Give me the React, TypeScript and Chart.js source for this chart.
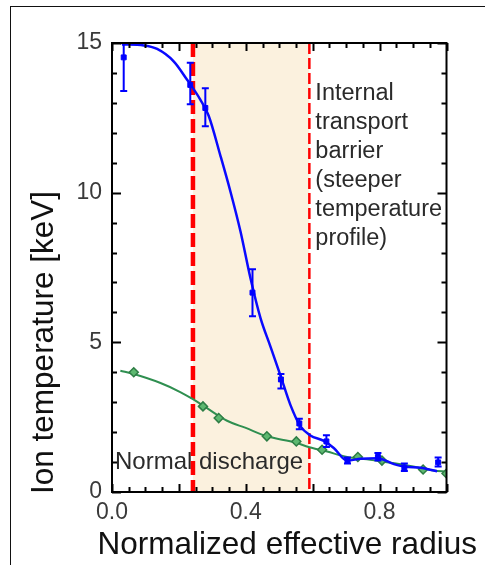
import React, { useEffect, useRef } from 'react';
import { Chart, registerables } from 'chart.js';

Chart.register(...registerables);

// ---- data ----
const blueFitX = [0.03, 0.095, 0.135, 0.185, 0.224, 0.264, 0.289, 0.324, 0.354, 0.384, 0.414, 0.444, 0.474, 0.504, 0.533, 0.563, 0.593, 0.633, 0.663, 0.703, 0.743, 0.793, 0.843, 0.877, 0.922, 0.972];
const blueFitY = [14.95, 14.92, 14.8, 14.38, 13.78, 13.11, 12.57, 11.24, 10.04, 8.71, 7.14, 5.81, 4.85, 3.88, 2.92, 2.2, 1.89, 1.71, 1.47, 1.05, 1.11, 1.13, 0.93, 0.84, 0.81, 0.69];

const bluePtsX = [0.035, 0.234, 0.279, 0.42, 0.505, 0.56, 0.641, 0.704, 0.795, 0.874, 0.975];
const bluePtsY = [14.52, 13.6, 12.83, 6.66, 3.76, 2.29, 1.69, 1.05, 1.17, 0.81, 0.99];
const blueErrLo = [13.4, 12.95, 12.22, 5.87, 3.46, 2.1, 1.5, 0.95, 1.05, 0.7, 0.85];
const blueErrHi = [14.99, 14.34, 13.49, 7.44, 3.94, 2.45, 1.9, 1.15, 1.3, 0.95, 1.15];

const greenFitX = [0.025, 0.065, 0.145, 0.204, 0.242, 0.284, 0.344, 0.4, 0.463, 0.55, 0.58, 0.643, 0.703, 0.762, 0.812, 0.892, 0.962, 1.0];
const greenFitY = [4.05, 3.94, 3.64, 3.34, 3.1, 2.8, 2.38, 2.14, 1.86, 1.65, 1.53, 1.35, 1.17, 1.09, 1.01, 0.87, 0.72, 0.68];

const greenPtsX = [0.065, 0.272, 0.319, 0.463, 0.551, 0.628, 0.735, 0.807, 0.93, 1.0];
const greenPtsY = [4.0, 2.86, 2.47, 1.86, 1.69, 1.41, 1.17, 1.05, 0.75, 0.62];

const bandStart = 0.242;
const bandEnd = 0.59;

const xTickValues = [0, 0.4, 0.8];
const yTickValues = [0, 5, 10, 15];
const xMinorStep = 0.05;
const xMajorStep = 0.2;
const yMinorStep = 1;
const yMajorStep = 5;

const xTitle = 'Normalized effective radius';
const yTitle = 'Ion temperature [keV]';
const itbLines = ['Internal', 'transport', 'barrier', '(steeper', 'temperature', 'profile)'];
const normalLabel = 'Normal discharge';

const FONT = '"Liberation Sans", Arial, Helvetica, sans-serif';

const zip = (xs: number[], ys: number[]) => xs.map((x, i) => ({ x, y: ys[i] }));

export default function App() {
  const ref = useRef<HTMLCanvasElement>(null);

  useEffect(() => {
    if (!ref.current) return;

    const decor = {
      id: 'decor',
      beforeDatasetsDraw(chart: any) {
        const { ctx, chartArea: a, scales } = chart;
        const x = scales.x;
        const x0 = x.getPixelForValue(bandStart);
        const x1 = x.getPixelForValue(bandEnd);
        ctx.save();
        ctx.fillStyle = '#FBF1DE';
        ctx.fillRect(x0, a.top, x1 - x0, a.bottom - a.top);

        ctx.font = `24px ${FONT}`;
        ctx.fillStyle = '#2a2a2a';
        ctx.textAlign = 'left';
        ctx.textBaseline = 'alphabetic';
        ctx.fillText(normalLabel, a.left + 3, a.bottom - 23);

        ctx.strokeStyle = '#FF0000';
        ctx.lineWidth = 4.5;
        ctx.setLineDash([14, 5]);
        ctx.beginPath();
        ctx.moveTo(x0, a.top);
        ctx.lineTo(x0, a.bottom);
        ctx.stroke();
        ctx.lineWidth = 2.5;
        ctx.setLineDash([11, 4]);
        ctx.beginPath();
        ctx.moveTo(x1, a.top);
        ctx.lineTo(x1, a.bottom);
        ctx.stroke();
        ctx.restore();
      },
      afterDatasetsDraw(chart: any) {
        const { ctx, chartArea: a, scales } = chart;
        const x = scales.x;
        const y = scales.y;
        ctx.save();
        // error bars
        ctx.strokeStyle = '#0000FF';
        ctx.lineWidth = 2;
        bluePtsX.forEach((v, i) => {
          const px = x.getPixelForValue(v);
          const t = y.getPixelForValue(blueErrHi[i]);
          const b = y.getPixelForValue(blueErrLo[i]);
          ctx.beginPath();
          ctx.moveTo(px, t);
          ctx.lineTo(px, b);
          ctx.moveTo(px - 3.5, t);
          ctx.lineTo(px + 3.5, t);
          ctx.moveTo(px - 3.5, b);
          ctx.lineTo(px + 3.5, b);
          ctx.stroke();
        });

        // axes box
        ctx.strokeStyle = '#000';
        ctx.lineWidth = 2;
        ctx.strokeRect(a.left, a.top, a.right - a.left, a.bottom - a.top);

        // ticks
        ctx.lineWidth = 2;
        ctx.beginPath();
        const nx = Math.round((x.max - x.min) / xMinorStep);
        for (let k = 0; k <= nx; k++) {
          const v = x.min + k * xMinorStep;
          const r = v / xMajorStep;
          const major = Math.abs(r - Math.round(r)) < 1e-6;
          const len = major ? 8 : 5;
          const px = Math.round(x.getPixelForValue(v)) + 0.5;
          ctx.moveTo(px, a.bottom);
          ctx.lineTo(px, a.bottom - len);
          ctx.moveTo(px, a.top);
          ctx.lineTo(px, a.top + len);
        }
        const ny = Math.round((y.max - y.min) / yMinorStep);
        for (let k = 0; k <= ny; k++) {
          const v = y.min + k * yMinorStep;
          const major = v % yMajorStep === 0;
          const len = major ? 9 : 5;
          const py = Math.round(y.getPixelForValue(v)) + 0.5;
          ctx.moveTo(a.left, py);
          ctx.lineTo(a.left + len, py);
          ctx.moveTo(a.right, py);
          ctx.lineTo(a.right - len, py);
        }
        ctx.stroke();

        // ITB annotation
        ctx.font = `23.5px ${FONT}`;
        ctx.fillStyle = '#2a2a2a';
        ctx.textAlign = 'left';
        ctx.textBaseline = 'alphabetic';
        const tx = x.getPixelForValue(bandEnd) + 6;
        itbLines.forEach((s, i) => {
          ctx.fillText(s, tx, a.top + 57 + i * 29);
        });
        ctx.restore();
      },
      afterDraw(chart: any) {
        const { ctx, chartArea: a } = chart;
        ctx.save();
        ctx.fillStyle = '#111';
        ctx.font = `31.5px ${FONT}`;
        ctx.textAlign = 'center';
        ctx.textBaseline = 'alphabetic';
        ctx.fillText(xTitle, (a.left + a.right) / 2 + 8, a.bottom + 62);
        ctx.translate(53, (a.top + a.bottom) / 2 + 75);
        ctx.rotate(-Math.PI / 2);
        ctx.fillText(yTitle, 0, 0);
        ctx.restore();
      },
    };

    const chart = new Chart(ref.current, {
      type: 'scatter',
      data: {
        datasets: [
          {
            data: zip(bluePtsX, bluePtsY),
            showLine: false,
            pointStyle: 'rect',
            pointRadius: 3.5,
            pointBackgroundColor: '#0000FF',
            pointBorderColor: '#0000FF',
            pointBorderWidth: 1,
          },
          {
            data: zip(blueFitX, blueFitY),
            showLine: true,
            borderColor: '#0A0AFF',
            borderWidth: 2.5,
            pointRadius: 0,
            cubicInterpolationMode: 'monotone',
          },
          {
            data: zip(greenPtsX, greenPtsY),
            showLine: false,
            pointStyle: 'rectRot',
            pointRadius: 4.5,
            pointBackgroundColor: '#5DB870',
            pointBorderColor: '#2E7D45',
            pointBorderWidth: 1.5,
          },
          {
            data: zip(greenFitX, greenFitY),
            showLine: true,
            borderColor: '#2F8F50',
            borderWidth: 2,
            pointRadius: 0,
            cubicInterpolationMode: 'monotone',
          },
        ],
      },
      options: {
        responsive: false,
        animation: false,
        devicePixelRatio: 1,
        layout: { padding: { left: 0, top: 43, right: 38.5, bottom: 0 } },
        plugins: { legend: { display: false }, tooltip: { enabled: false } },
        scales: {
          x: {
            type: 'linear',
            min: 0,
            max: 1,
            grid: { display: false, drawTicks: false },
            border: { display: false },
            ticks: {
              font: { family: FONT, size: 23 },
              color: '#3a3a3a',
              padding: 7,
              autoSkip: false,
              maxRotation: 0,
              callback: (v: any) => Number(v).toFixed(1),
            },
            afterBuildTicks: (s: any) => {
              s.ticks = xTickValues.map((value) => ({ value }));
            },
            afterFit: (s: any) => {
              s.height = 73;
            },
          },
          y: {
            type: 'linear',
            min: 0,
            max: 15,
            grid: { display: false, drawTicks: false },
            border: { display: false },
            ticks: {
              font: { family: FONT, size: 23 },
              color: '#3a3a3a',
              padding: 10,
              autoSkip: false,
              callback: (v: any) => String(v),
            },
            afterBuildTicks: (s: any) => {
              s.ticks = yTickValues.map((value) => ({ value }));
            },
            afterFit: (s: any) => {
              s.width = 112;
            },
          },
        },
      },
      plugins: [decor],
    } as any);

    return () => chart.destroy();
  }, []);

  return (
    <div style={{ position: 'absolute', left: 0, top: 0, width: 485, height: 565, overflow: 'hidden', background: '#fff' }}>
      <div
        style={{
          position: 'absolute',
          left: 10,
          top: 6,
          width: 500,
          height: 600,
          borderLeft: '1px solid #111',
          borderTop: '1px solid #111',
        }}
      />
      <canvas ref={ref} width={485} height={565} style={{ position: 'absolute', left: 0, top: 0 }} />
    </div>
  );
}
